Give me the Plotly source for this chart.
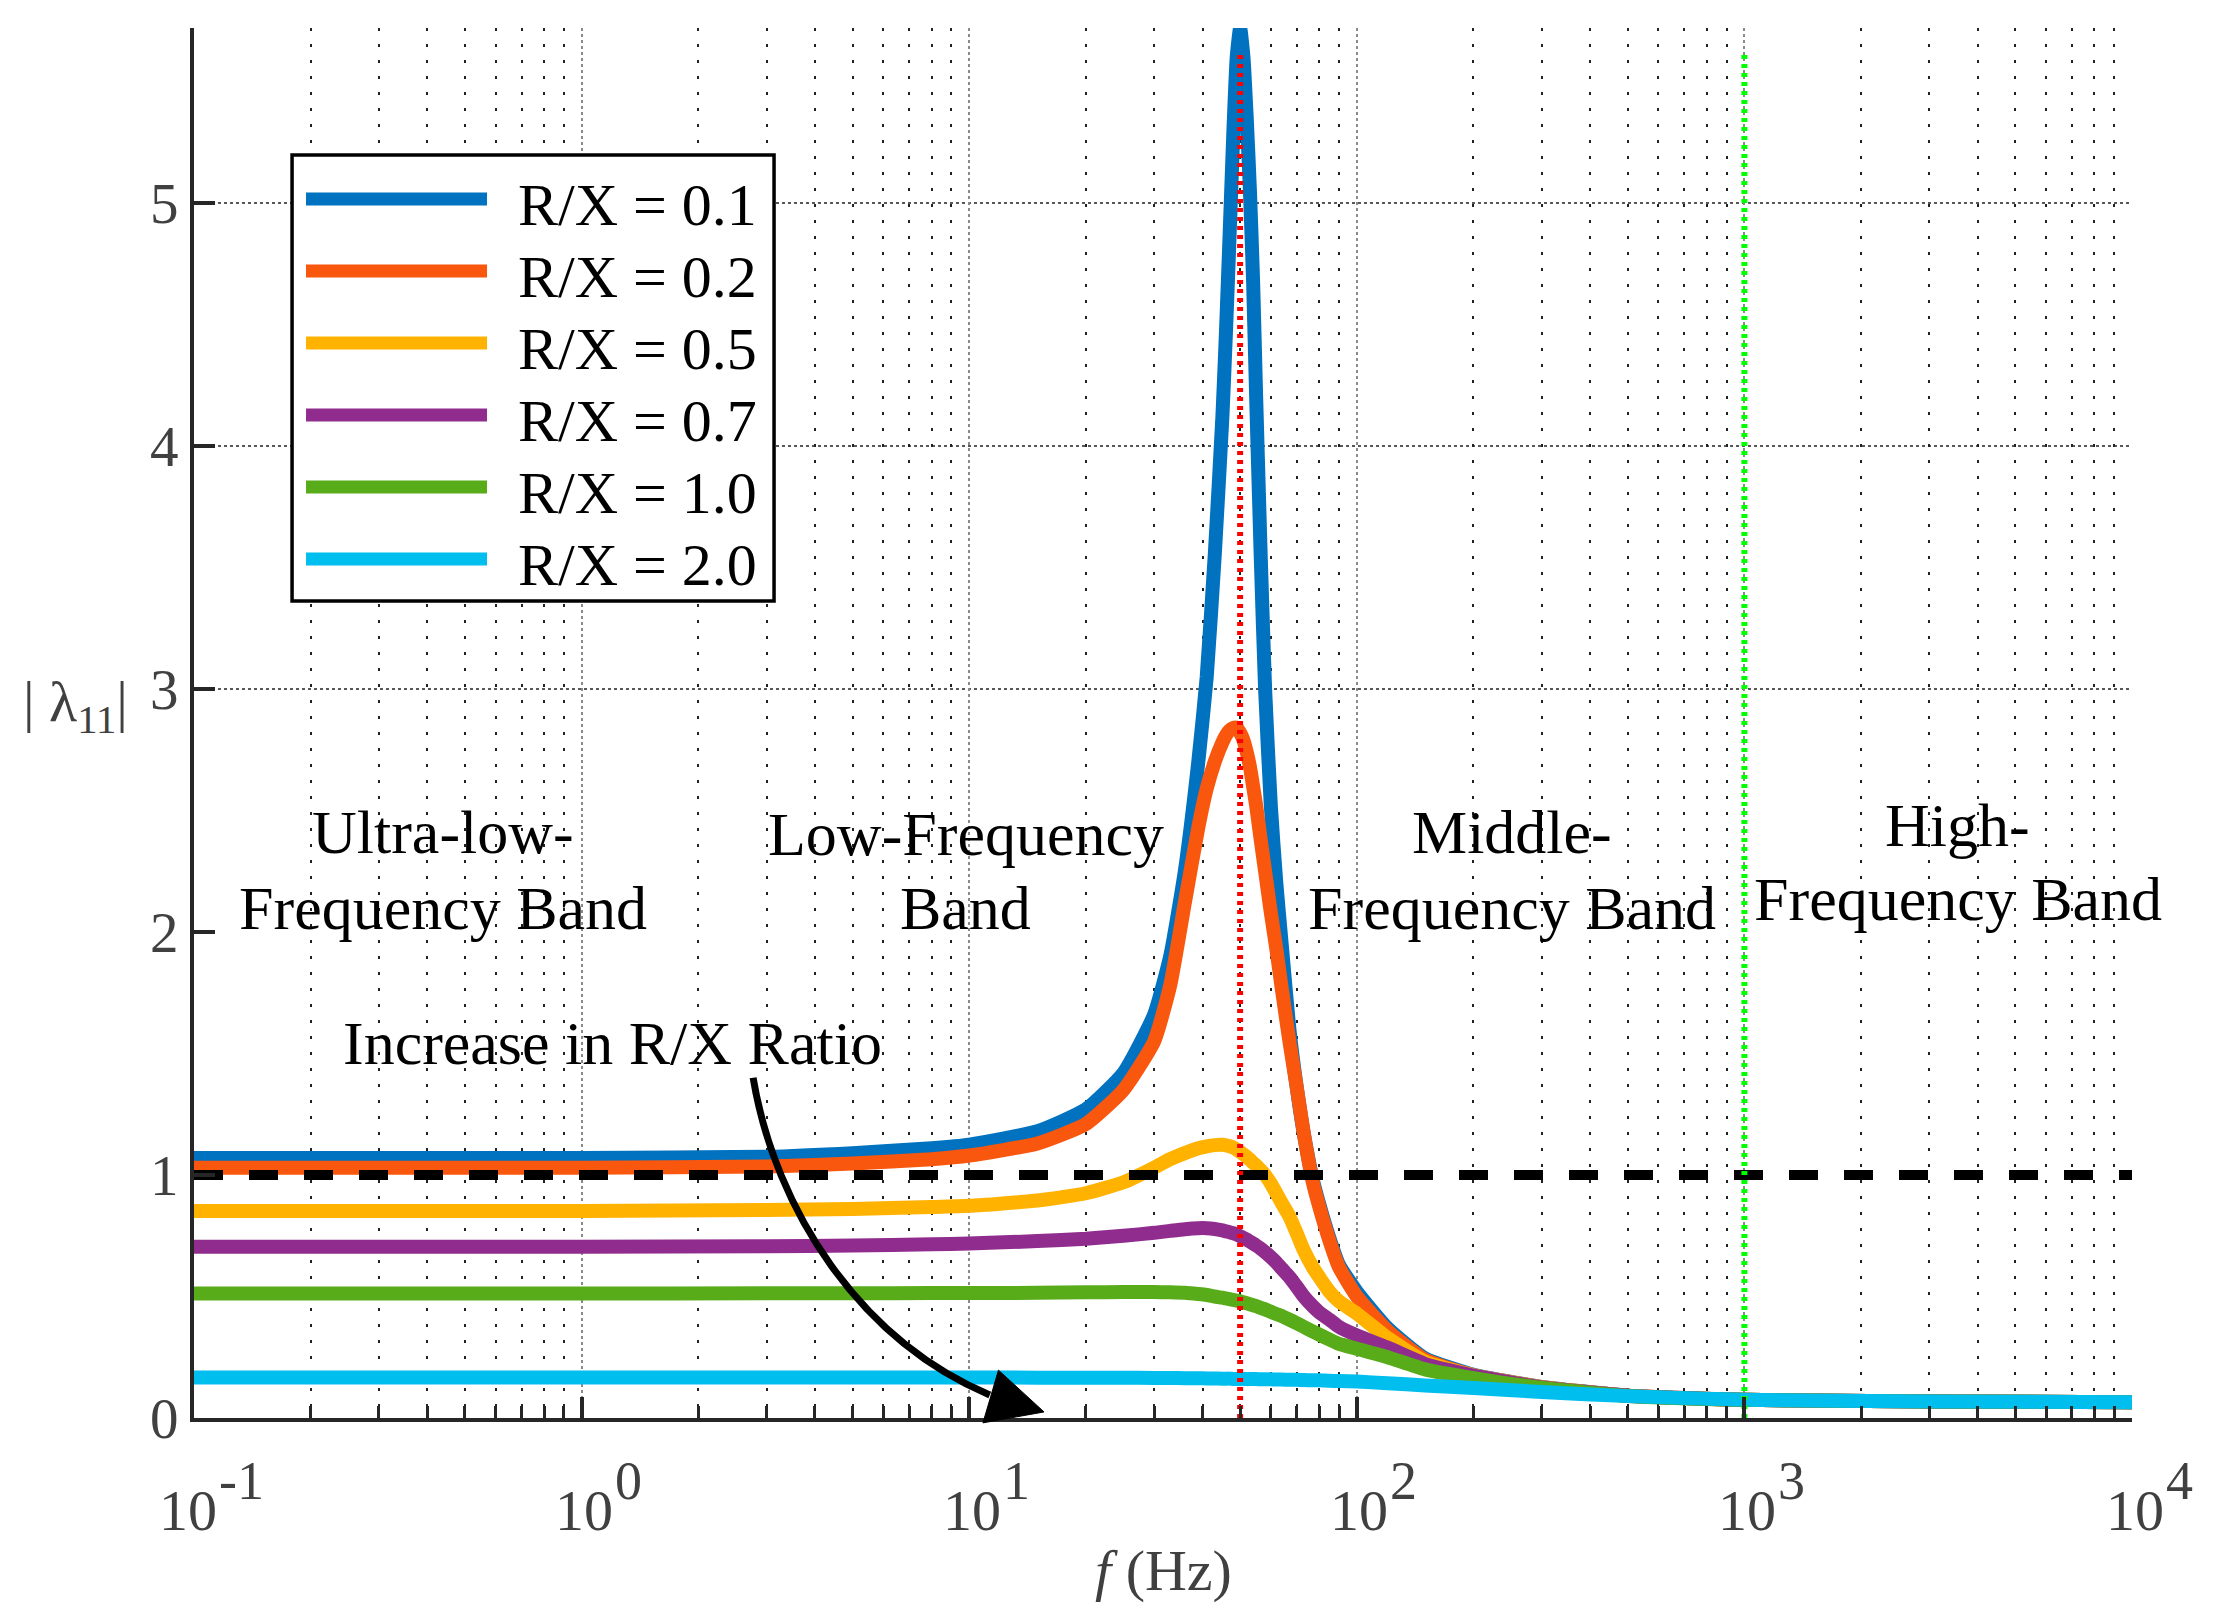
import math
import plotly.graph_objects as go

# ---------------- data ----------------
freq = [0.1, 0.3, 1, 3, 5, 8, 10, 15, 20, 25, 30, 33, 36, 39, 41, 43, 45, 46, 47, 48,
        49, 50, 51, 52, 53, 54, 55, 56.5, 58, 60, 62, 64, 67, 70, 73, 77, 80, 85, 90,
        100, 120, 150, 200, 300, 500, 1000, 3000, 10000]

lam_rx01 = [1.07, 1.07, 1.07, 1.075, 1.09, 1.11, 1.125, 1.18, 1.27, 1.42, 1.66, 1.9, 2.25, 2.7,
            3.05, 3.55, 4.12, 4.48, 4.88, 5.28, 5.6, 5.72, 5.6, 5.35, 5.05, 4.68, 4.2, 3.55,
            3.0, 2.52, 2.2, 1.95, 1.6, 1.36, 1.17, 0.98, 0.88, 0.74, 0.63, 0.52, 0.37, 0.245,
            0.178, 0.128, 0.092, 0.075, 0.068, 0.065]
lam_rx02 = [1.03, 1.03, 1.03, 1.035, 1.047, 1.065, 1.08, 1.13, 1.21, 1.35, 1.55, 1.78, 2.12, 2.43,
            2.59, 2.7, 2.78, 2.81, 2.83, 2.84, 2.84, 2.82, 2.79, 2.74, 2.68, 2.6, 2.52, 2.38,
            2.25, 2.08, 1.93, 1.77, 1.55, 1.36, 1.17, 0.97, 0.87, 0.73, 0.62, 0.5, 0.36, 0.24,
            0.176, 0.127, 0.092, 0.075, 0.068, 0.065]
lam_rx05 = [0.852, 0.852, 0.852, 0.856, 0.86, 0.868, 0.873, 0.895, 0.925, 0.97, 1.03, 1.065, 1.09,
            1.11, 1.118, 1.123, 1.124, 1.122, 1.118, 1.113, 1.105, 1.095, 1.085, 1.075, 1.063,
            1.05, 1.04, 1.02, 1.0, 0.965, 0.925, 0.885, 0.83, 0.76, 0.69, 0.62, 0.58, 0.52,
            0.48, 0.43, 0.33, 0.232, 0.176, 0.127, 0.092, 0.075, 0.068, 0.065]
lam_rx07 = [0.705, 0.705, 0.705, 0.707, 0.71, 0.715, 0.718, 0.728, 0.738, 0.75, 0.762, 0.77,
            0.777, 0.781, 0.781, 0.778, 0.772, 0.768, 0.764, 0.76, 0.755, 0.748, 0.741, 0.734,
            0.726, 0.718, 0.71, 0.697, 0.683, 0.662, 0.64, 0.615, 0.58, 0.54, 0.5, 0.46, 0.435,
            0.405, 0.375, 0.34, 0.29, 0.222, 0.174, 0.126, 0.092, 0.075, 0.068, 0.065]
lam_rx10 = [0.512, 0.512, 0.512, 0.513, 0.513, 0.514, 0.514, 0.515, 0.517, 0.518, 0.518, 0.517,
            0.515, 0.51, 0.506, 0.5, 0.495, 0.492, 0.489, 0.486, 0.483, 0.48, 0.476, 0.472,
            0.468, 0.464, 0.46, 0.453, 0.447, 0.437, 0.428, 0.42, 0.405, 0.39, 0.375, 0.356,
            0.343, 0.323, 0.305, 0.285, 0.25, 0.2, 0.164, 0.124, 0.091, 0.075, 0.068, 0.065]
lam_rx20 = [0.167, 0.167, 0.167, 0.167, 0.167, 0.167, 0.167, 0.166, 0.166, 0.166, 0.165, 0.165,
            0.164, 0.164, 0.163, 0.163, 0.162, 0.162, 0.162, 0.161, 0.161, 0.161, 0.161, 0.16,
            0.16, 0.16, 0.16, 0.159, 0.159, 0.159, 0.158, 0.158, 0.157, 0.157, 0.156, 0.155,
            0.155, 0.153, 0.152, 0.15, 0.143, 0.134, 0.123, 0.107, 0.09, 0.075, 0.068, 0.065]

series_values = [lam_rx01, lam_rx02, lam_rx05, lam_rx07, lam_rx10, lam_rx20]
series_names = ["R/X = 0.1", "R/X = 0.2", "R/X = 0.5", "R/X = 0.7", "R/X = 1.0", "R/X = 2.0"]
series_colors = ["#0072BF", "#F9560E", "#FFB200", "#902C8E", "#58AC1A", "#00BEEE"]

threshold_f = [0.1, 10000]
threshold_y = [1, 1]
resonance_f = [50, 50]
band_edge_f = [1000, 1000]
marker_y = [0, 5.62]

x_tickvals = [0.1, 1, 10, 100, 1000, 10000]
x_tick_base = "10"
x_tick_exponents = ["-1", "0", "1", "2", "3", "4"]
y_tickvals = [0, 1, 2, 3, 4, 5]
y_grid_levels = [3, 4, 5]

band_labels = [  # (text, f, y)
    ("Ultra-low-", 0.44, 2.41), ("Frequency Band", 0.44, 2.097),
    ("Low-Frequency", 9.8, 2.402), ("Band", 9.8, 2.097),
    ("Middle-", 251, 2.41), ("Frequency Band", 251, 2.097),
    ("High-", 3556, 2.442), ("Frequency Band", 3556, 2.134),
    ("Increase in R/X Ratio", 1.205, 1.542),
]
# curved arrow: start, two controls, end (f, y) + head (tip, corner, corner)
arrow_pts = [(2.77, 1.40), (3.16, 0.855), (5.23, 0.32), (11.3, 0.095)]
arrow_head = [(15.6, 0.025), (11.9, 0.197), (10.85, -0.02)]

Y_MAX = 5.72
X_LOG_RANGE = [-1, 4]
FONT = "Liberation Serif, Times New Roman, serif"
AX_COL = "#262626"
TXT_COL = "#404040"
LINE_W = 14
BASE_FS, EXP_FS = 58, 54

fig = go.Figure()
for vals, name, col in zip(series_values, series_names, series_colors):
    fig.add_trace(go.Scatter(x=freq, y=vals, mode="lines", name=name, showlegend=False,
                             line=dict(color=col, width=LINE_W, shape="spline", smoothing=0.5)))

fig.add_trace(go.Scatter(x=threshold_f, y=threshold_y, mode="lines", showlegend=False,
                         line=dict(color="black", width=10, dash="29px,26px")))
fig.add_trace(go.Scatter(x=resonance_f, y=marker_y, mode="lines", showlegend=False,
                         line=dict(color="#FF0000", width=6, dash="4px,5px")))
fig.add_trace(go.Scatter(x=band_edge_f, y=marker_y, mode="lines", showlegend=False,
                         line=dict(color="#00FF00", width=6, dash="4px,5px")))


def dom_x(f):
    return (math.log10(f) - X_LOG_RANGE[0]) / (X_LOG_RANGE[1] - X_LOG_RANGE[0])


def dom_y(y):
    return y / Y_MAX


shapes = []
for lv in y_grid_levels:
    shapes.append(dict(type="line", xref="x domain", yref="y", x0=0, x1=1, y0=lv, y1=lv,
                       line=dict(color="#222222", width=1.5, dash="dot"), layer="below"))

p = [(dom_x(f), dom_y(v)) for f, v in arrow_pts]
path = "M{:.5f},{:.5f} C{:.5f},{:.5f} {:.5f},{:.5f} {:.5f},{:.5f}".format(
    p[0][0], p[0][1], p[1][0], p[1][1], p[2][0], p[2][1], p[3][0], p[3][1])
shapes.append(dict(type="path", xref="x domain", yref="y domain", path=path,
                   line=dict(color="black", width=7)))
h = [(dom_x(f), dom_y(v)) for f, v in arrow_head]
hpath = "M{:.5f},{:.5f} L{:.5f},{:.5f} L{:.5f},{:.5f} Z".format(*h[0], *h[1], *h[2])
shapes.append(dict(type="path", xref="x domain", yref="y domain", path=hpath,
                   fillcolor="black", line=dict(color="black", width=1)))

# custom legend (long line samples like the MATLAB legend)
L_X0, L_X1, L_Y0, L_Y1 = 0.0506, 0.2993, 0.5878, 0.9086
shapes.append(dict(type="rect", xref="paper", yref="paper", x0=L_X0, x1=L_X1, y0=L_Y0, y1=L_Y1,
                   line=dict(color="black", width=3.5), fillcolor="white", layer="above"))
first_y, step_y = 0.877, 0.0518
annotations = []
for i, (name, col) in enumerate(zip(series_names, series_colors)):
    yy = first_y - i * step_y
    shapes.append(dict(type="line", xref="paper", yref="paper", x0=0.0578, x1=0.1512,
                       y0=yy, y1=yy, line=dict(color=col, width=13), layer="above"))
    annotations.append(dict(xref="paper", yref="paper", x=0.1662, y=yy - 0.004,
                            text=name, showarrow=False, xanchor="left", yanchor="middle",
                            font=dict(family=FONT, size=60, color="black")))

for txt, f, yv in band_labels:
    annotations.append(dict(xref="x", yref="y", x=math.log10(f), y=yv, text=txt, showarrow=False,
                            xanchor="center", yanchor="middle",
                            font=dict(family=FONT, size=62, color="black")))

# x tick labels: "10" with a near full-size exponent (MATLAB style)
for v, ex in zip(x_tickvals, x_tick_exponents):
    base_w = 0.5 * len(x_tick_base) * BASE_FS
    exp_w = sum(0.333 if ch == "-" else 0.5 for ch in ex) * EXP_FS
    split = 17 - (base_w + exp_w) / 2 + base_w
    annotations.append(dict(xref="x", yref="paper", x=math.log10(v), y=-0.0669, xshift=split,
                            text=x_tick_base, showarrow=False, xanchor="right", yanchor="middle",
                            borderpad=0, font=dict(family=FONT, size=BASE_FS, color=TXT_COL)))
    annotations.append(dict(xref="x", yref="paper", x=math.log10(v), y=-0.0453, xshift=split,
                            text=ex, showarrow=False, xanchor="left", yanchor="middle",
                            borderpad=0, font=dict(family=FONT, size=EXP_FS, color=TXT_COL)))

annotations.append(dict(xref="paper", yref="y", x=-0.0614, y=2.93,
                        text="| λ<sub>11</sub>|",
                        showarrow=False, xanchor="center",
                        yanchor="middle", font=dict(family=FONT, size=58, color=TXT_COL)))
annotations.append(dict(xref="paper", yref="paper", x=0.5, y=-0.1094,
                        text="<i>f</i> (Hz)", showarrow=False, xanchor="center",
                        yanchor="middle", font=dict(family=FONT, size=58, color=TXT_COL)))

minor_vals = [m * 10 ** e for e in range(-1, 4) for m in range(2, 10)]

fig.update_layout(
    width=2217, height=1621,
    margin=dict(l=194, r=85, t=28, b=203),
    paper_bgcolor="white", plot_bgcolor="white",
    shapes=shapes, annotations=annotations,
    xaxis=dict(type="log", range=X_LOG_RANGE, tickmode="array", tickvals=x_tickvals,
               showticklabels=False,
               ticks="inside", ticklen=21, tickwidth=4, tickcolor=AX_COL,
               showline=True, linecolor=AX_COL, linewidth=4, zeroline=False,
               showgrid=True, gridcolor="#8a8a8a", gridwidth=1.5, griddash="dot",
               minor=dict(tickvals=minor_vals, ticks="inside", ticklen=12, tickwidth=3,
                          tickcolor=AX_COL, showgrid=True, gridcolor="#222222",
                          gridwidth=2, griddash="3px,13px")),
    yaxis=dict(range=[0, Y_MAX], tickmode="array", tickvals=y_tickvals,
               ticks="inside", ticklen=21, tickwidth=4, tickcolor=AX_COL,
               showline=True, linecolor=AX_COL, linewidth=4, zeroline=False, showgrid=False,
               tickfont=dict(family=FONT, size=57, color=TXT_COL), ticklabelstandoff=0),
)

fig.write_html("out.html")
